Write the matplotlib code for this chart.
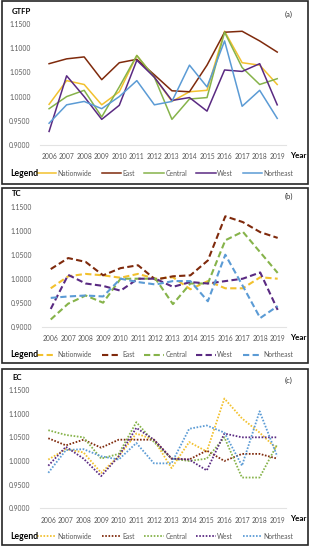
import matplotlib.pyplot as plt
from matplotlib.patches import Rectangle

plt.rcParams['font.family'] = ['Lato', 'DejaVu Sans']

years = [str(y) for y in range(2006, 2020)]
regions = ['Nationwide', 'East', 'Central', 'West', 'Northeast']
colors = ['#F2C12E', '#7F2A0C', '#86B34A', '#5A2A82', '#5B9BD5']

gtfp = {
    'Nationwide': [0.984, 1.033, 1.025, 0.983, 1.010, 1.085, 1.040, 0.990, 1.010, 1.013, 1.135, 1.070, 1.065, 1.025],
    'East':       [1.068, 1.078, 1.082, 1.035, 1.070, 1.077, 1.045, 1.012, 1.010, 1.065, 1.133, 1.135, 1.115, 1.092],
    'Central':    [0.975, 1.000, 1.013, 0.958, 1.020, 1.085, 1.040, 0.953, 0.995, 0.998, 1.133, 1.060, 1.025, 1.037],
    'West':       [0.928, 1.043, 1.000, 0.953, 0.982, 1.075, 1.040, 0.992, 0.998, 0.970, 1.055, 1.052, 1.068, 0.983],
    'Northeast':  [0.945, 0.983, 0.990, 0.975, 1.000, 1.033, 0.983, 0.990, 1.065, 1.020, 1.115, 0.980, 1.013, 0.955],
}
tc = {
    'Nationwide': [0.980, 1.005, 1.010, 1.007, 1.002, 1.010, 1.000, 1.003, 0.978, 0.995, 0.980, 0.980, 1.003, 1.000],
    'East':       [1.020, 1.043, 1.035, 1.007, 1.022, 1.028, 0.998, 1.005, 1.007, 1.038, 1.130, 1.118, 1.097, 1.085],
    'Central':    [0.915, 0.948, 0.965, 0.950, 1.000, 1.000, 1.000, 0.947, 0.990, 0.990, 1.080, 1.098, 1.055, 1.012],
    'West':       [0.937, 1.008, 0.990, 0.985, 0.975, 1.000, 1.000, 0.983, 0.993, 0.990, 0.995, 1.000, 1.013, 0.935],
    'Northeast':  [0.960, 0.963, 0.965, 0.963, 1.000, 0.993, 0.988, 0.995, 0.995, 0.953, 1.050, 0.985, 0.918, 0.943],
}
ec = {
    'Nationwide': [1.003, 1.025, 1.018, 0.975, 1.010, 1.058, 1.045, 0.985, 1.040, 1.020, 1.132, 1.090, 1.060, 1.025],
    'East':       [1.048, 1.033, 1.045, 1.028, 1.045, 1.045, 1.045, 1.005, 1.003, 1.022, 1.000, 1.015, 1.015, 1.005],
    'Central':    [1.065, 1.055, 1.050, 1.005, 1.015, 1.082, 1.040, 1.005, 1.000, 1.005, 1.050, 0.965, 0.965, 1.035],
    'West':       [0.990, 1.030, 1.005, 0.968, 1.010, 1.070, 1.045, 1.005, 1.003, 0.980, 1.058, 1.050, 1.050, 1.050],
    'Northeast':  [0.975, 1.023, 1.025, 1.010, 1.003, 1.038, 0.995, 0.995, 1.068, 1.075, 1.060, 0.990, 1.105, 1.010],
}
yticks = [0.90, 0.95, 1.00, 1.05, 1.10, 1.15]

W, H = 313, 550
fig = plt.figure(figsize=(W / 100, H / 100), dpi=100)


def fx(x):
    return x / W


def fy(y):
    return 1 - y / H


# panel settings: data, title, tag, border box (top, bottom), axes (left, right, top, bottom), style
panels = [
    (gtfp, 'GTFP', '(a)', (1, 184), (40.3, 286, 24, 145), dict(lw=1.1, ls='-')),
    (tc, 'TC', '(b)', (188, 363), (42, 286.4, 206.7, 326.7), dict(lw=1.5, ls=(0, (3, 1.6)))),
    (ec, 'EC', '(c)', (369, 545), (39.5, 286, 390, 508.3), dict(lw=1.3, ls=(0, (0.9, 0.9)))),
]

for data, name, tag, (btop, bbot), (l, r, t, b), style in panels:
    fig.patches.append(Rectangle((fx(1.5), fy(bbot)), fx(306.5), (bbot - btop) / H,
                                 transform=fig.transFigure, fill=False,
                                 edgecolor='#262626', linewidth=1.2))
    ax = fig.add_axes([fx(l), fy(b), fx(r - l), (b - t) / H])
    for reg, c in zip(regions, colors):
        ax.plot(range(len(years)), data[reg], color=c, label=reg, **style)
    ax.set_xlim(-0.5, len(years) - 0.5)
    ax.set_ylim(0.90, 1.15)
    ax.set_yticks(yticks)
    ax.set_yticklabels([f'{v:.4f}' for v in yticks])
    ax.set_xticks(range(len(years)))
    ax.set_xticklabels(years)
    ax.tick_params(length=0, labelsize=4.9, labelcolor='#595959')
    ax.tick_params(axis='y', pad=7)
    ax.tick_params(axis='x', pad=6)
    for s in ['top', 'right', 'left']:
        ax.spines[s].set_visible(False)
    ax.spines['bottom'].set_color('#E3E3E3')
    ax.spines['bottom'].set_linewidth(0.8)
    ax.patch.set_alpha(0)

    fig.text(fx(12), fy(t - 13), name, fontsize=5.6, fontweight='bold', va='center', ha='left')
    fig.text(fx(289), fy(t - 10), tag, fontsize=5.4, va='center', ha='center', color='#333333')
    fig.text(fx(290), fy(b + 10.5), 'Year', fontsize=5.8, fontweight='bold', va='center', ha='left')

    ly = b + 28
    fig.text(fx(10), fy(ly), 'Legend', fontsize=6.2, fontweight='bold', va='center', ha='left')
    leg = ax.legend(loc='center left', bbox_to_anchor=(fx(37), fy(ly)),
                    bbox_transform=fig.transFigure, ncol=5, frameon=False,
                    fontsize=4.9, handlelength=2.8, handletextpad=0.25,
                    columnspacing=1.4, borderpad=0, borderaxespad=0)
    for txt in leg.get_texts():
        txt.set_color('#595959')

fig.savefig('out.png', dpi=100)
